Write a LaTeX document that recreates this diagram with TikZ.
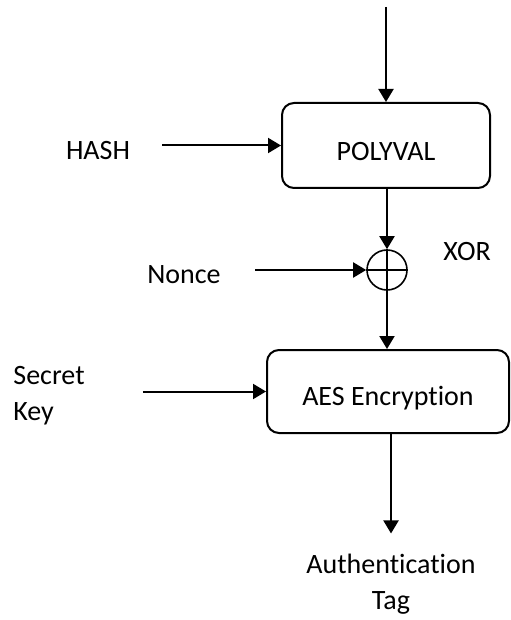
\documentclass[tikz,border=0pt]{standalone}
\usepackage{fontspec}
\setmainfont[Ligatures=NoCommon]{Carlito}
\usepackage{tikz}
\usetikzlibrary{arrows.meta, positioning, calc}

\begin{document}
\begin{tikzpicture}[
    x=0.5pt, y=-0.5pt,
    block/.style={draw, line width=1pt, rounded corners=6pt, font=\fontsize{14}{18}\selectfont, align=center},
    label/.style={font=\fontsize{14}{18}\selectfont, inner sep=0pt},
    xorgate/.style={draw, circle, line width=0.8pt, minimum size=20pt, inner sep=0pt},
    arrow/.style={-{Triangle[length=6.5pt, width=7.5pt]}, line width=1pt}
]
    \useasboundingbox (0,0) rectangle (510,620);

    % Blocks
    \node[block, minimum width=104pt, minimum height=42.5pt] (polyval) at (386,145.5) {\raisebox{-3pt}[\height][0pt]{POLYVAL}};
    \node[xorgate] (xor) at (387,270) {};
    \node[block, minimum width=121pt, minimum height=41.5pt] (aes) at (388,391.5) {\raisebox{-2pt}[\height][0pt]{AES Encryption}};
    \coordinate (msgin) at (386,7);

    % Labels
    \node[label] (hash) at (98,151) {HASH};
    \node[label] (nonce) at (184,275) {Nonce};
    \node[label, align=left, anchor=west] (key) at (13,396) {Secret\\Key};
    \node[label] (xorlbl) at (467,252) {XOR};
    \node[label, align=center] (tag) at (391,584) {Authentication\\Tag};

    % XOR cross
    \draw[line width=0.7pt] (xor.north) -- (xor.south);
    \draw[line width=0.7pt] (xor.west) -- (xor.east);

    % Connections
    \draw[arrow] (msgin) -- (polyval.north);
    \draw[arrow, shorten <=16pt] (hash.east |- polyval.west) -- (polyval.west);
    \draw[arrow] (polyval.south -| xor.north) -- (xor.north);
    \draw[arrow, shorten <=17pt] (nonce.east |- xor.west) -- (xor.west);
    \draw[arrow] (xor.south) -- (xor.south |- aes.north);
    \draw[arrow, shorten <=29pt] (key.east |- aes.west) -- (aes.west);
    \draw[arrow, shorten >=10pt] (aes.south -| tag.north) -- (tag.north);
\end{tikzpicture}
\end{document}
